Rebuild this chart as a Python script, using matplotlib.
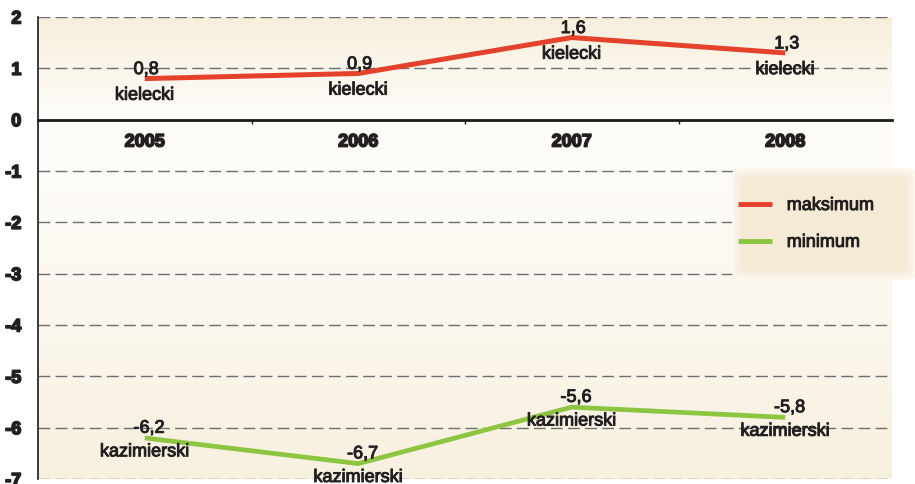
import numpy as np
import matplotlib
matplotlib.use('Agg')
import matplotlib.pyplot as plt
import matplotlib.patheffects as pe
from matplotlib.lines import Line2D
from matplotlib.patches import FancyBboxPatch
from matplotlib.colors import LinearSegmentedColormap

# Data
years = ['2005', '2006', '2007', '2008']
max_vals = [0.8, 0.9, 1.6, 1.3]
min_vals = [-6.2, -6.7, -5.6, -5.8]
max_names = ['kielecki', 'kielecki', 'kielecki', 'kielecki']
min_names = ['kazimierski', 'kazimierski', 'kazimierski', 'kazimierski']
y_ticks = [2, 1, 0, -1, -2, -3, -4, -5, -6, -7]

red = '#e4422b'
green = '#8cc540'
txt = '#231f20'

plt.rcParams['font.family'] = ['Liberation Sans', 'DejaVu Sans']

# slightly heavier text, like the printed original
heavy = [pe.withStroke(linewidth=0.7, foreground=txt)]
heavier = [pe.withStroke(linewidth=1.2, foreground=txt)]

fig = plt.figure(figsize=(9.15, 4.85), dpi=100)
ax = fig.add_axes([38 / 915, 5 / 485, (892 - 38) / 915, (480 - 18) / 485])

x = np.arange(len(years))

# gradient background
cmap = LinearSegmentedColormap.from_list('bg', ['#fefdfa', '#f7efdc'])
grad = np.linspace(0, 1, 256).reshape(-1, 1)
ax.imshow(grad, extent=[-0.5, 3.5, 0, 2], origin='lower', cmap=cmap,
          aspect='auto', zorder=0)
cmap2 = LinearSegmentedColormap.from_list('bg2', ['#fefdfa', '#fcf8f0', '#f8f0df'])
ax.imshow(grad[::-1], extent=[-0.5, 3.5, -7, 0], origin='lower', cmap=cmap2,
          aspect='auto', zorder=0)

# dashed grid
for t in y_ticks:
    if t != 0:
        ax.axhline(t, color='#6e6e6e', lw=1, ls=(0, (8.5, 3.8)), zorder=1)

ax.plot(x, max_vals, color=red, lw=3.6, solid_capstyle='butt', zorder=3)
ax.plot(x, min_vals, color=green, lw=3.4, solid_capstyle='butt', zorder=3)

for xi, v, n in zip(x, max_vals, max_names):
    ax.annotate(f'{v:.1f}'.replace('.', ','), (xi, v), xytext=(1, 6.5),
                textcoords='offset points', ha='center', va='center',
                fontsize=13, color=txt, zorder=4, path_effects=heavy)
    ax.annotate(n, (xi, v), xytext=(0, -12), textcoords='offset points',
                ha='center', va='center', fontsize=13, color=txt, zorder=4,
                path_effects=heavy)
for xi, v, n in zip(x, min_vals, min_names):
    ax.annotate(f'{v:.1f}'.replace('.', ','), (xi, v), xytext=(3, 7),
                textcoords='offset points', ha='center', va='center',
                fontsize=13, color=txt, zorder=4, path_effects=heavy)
    ax.annotate(n, (xi, v), xytext=(0, -10), textcoords='offset points',
                ha='center', va='center', fontsize=13, color=txt, zorder=4,
                path_effects=heavy)

ax.set_xlim(-0.5, 3.5)
ax.set_ylim(-7, 2)

ax.spines['top'].set_visible(False)
ax.spines['right'].set_visible(False)
ax.spines['bottom'].set_position(('data', 0))
ax.spines['bottom'].set_linewidth(2)
ax.spines['bottom'].set_color('#1a1a1a')
ax.spines['bottom'].set_zorder(2)
ax.spines['left'].set_linewidth(1.2)
ax.spines['left'].set_color('#1a1a1a')

ax.set_xticks(x)
ax.set_xticklabels(years, fontsize=13, fontweight='bold', color=txt)
ax.set_xticks(x[:-1] + 0.5, minor=True)
ax.tick_params(axis='x', which='major', length=0, pad=10)
ax.tick_params(axis='x', which='minor', length=3, width=1, color='#1a1a1a')
ax.set_yticks(y_ticks)
ax.set_yticklabels([str(t) for t in y_ticks], fontsize=13, fontweight='bold',
                   color=txt)
ax.tick_params(axis='y', length=0, pad=12)
for lab in ax.get_xticklabels() + ax.get_yticklabels():
    lab.set_path_effects(heavier)

# legend box with a soft edge
for pad, col in [(0.03, '#fbf7ef'), (0.0, '#f8f1e3'), (-0.05, '#f4ead6')]:
    box = FancyBboxPatch((7.35 - pad, 2.07 - pad), 1.78 + 2 * pad, 1.06 + 2 * pad,
                         boxstyle='round,pad=0,rounding_size=0.08',
                         transform=fig.dpi_scale_trans, facecolor=col,
                         edgecolor='none', zorder=5)
    fig.patches.append(box)

handles = [Line2D([], [], color=red, lw=3.5, solid_capstyle='butt'),
           Line2D([], [], color=green, lw=3.5, solid_capstyle='butt')]
leg = fig.legend(handles, ['maksimum', 'minimum'], loc='upper left',
                 bbox_to_anchor=(738 / 915, 1 - 198 / 485), borderaxespad=0,
                 borderpad=0, fontsize=13, frameon=False,
                 handlelength=1.9, handletextpad=0.8, labelspacing=1.1)
leg.set_zorder(6)
for t in leg.get_texts():
    t.set_color(txt)
    t.set_path_effects(heavy)

fig.savefig('out.png', dpi=100)
